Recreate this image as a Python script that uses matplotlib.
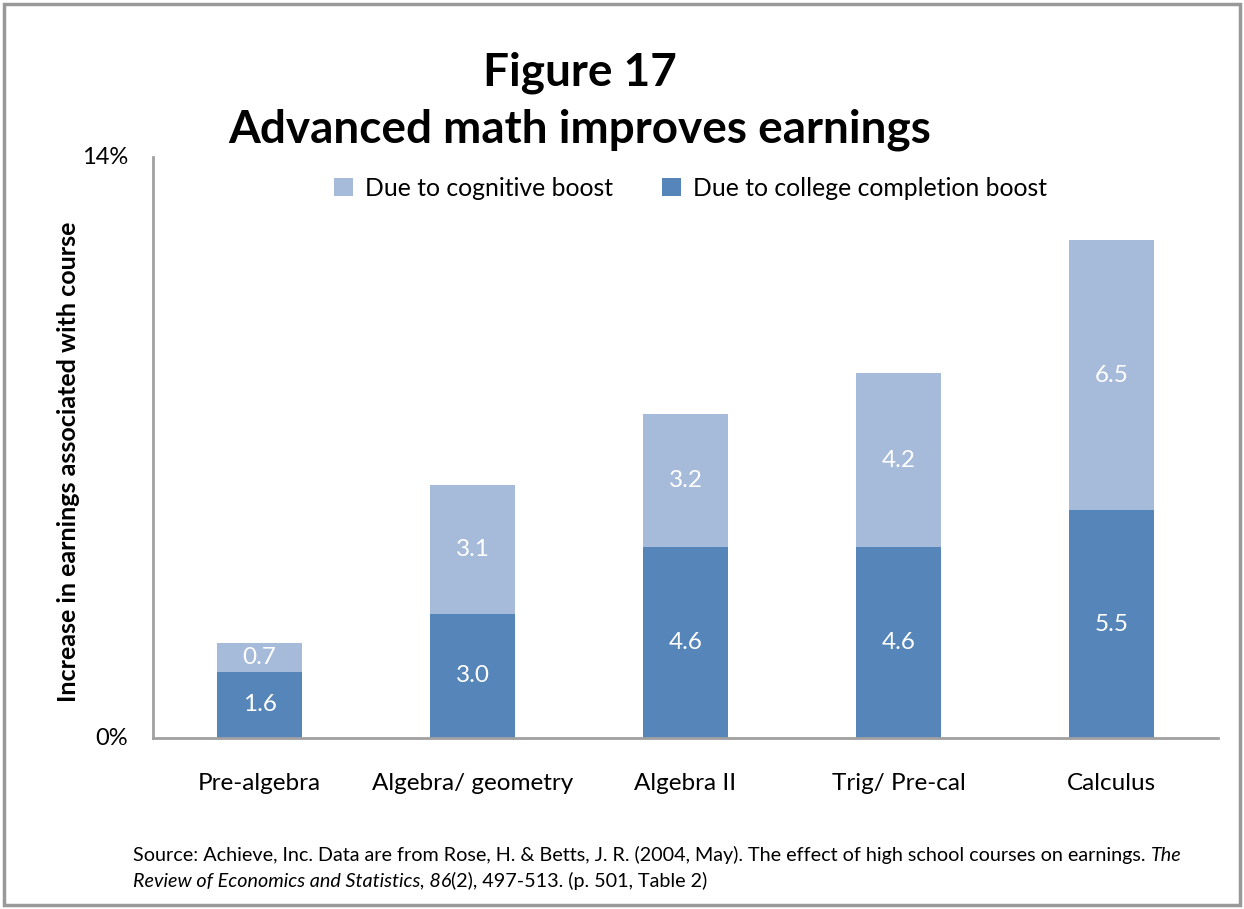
import numpy as np
import matplotlib.pyplot as plt
from matplotlib.patches import Rectangle

# data
courses = ['Pre-algebra', 'Algebra/ geometry', 'Algebra II', 'Trig/ Pre-cal', 'Calculus']
college = [1.6, 3.0, 4.6, 4.6, 5.5]
cognitive = [0.7, 3.1, 3.2, 4.2, 6.5]
ytick_vals = [0, 14]
ytick_labels = ['0%', '14%']

plt.rcParams['font.family'] = ['Lato', 'DejaVu Sans']

dark = '#5585B9'
light = '#A6BAD9'

fig = plt.figure(figsize=(12.44, 9.09), dpi=100)
ax = fig.add_axes([0.123, 0.188, 0.856, 0.639])

x = np.arange(len(courses))
b1 = ax.bar(x, college, width=0.4, color=dark, label='Due to college completion boost')
b2 = ax.bar(x, cognitive, width=0.4, bottom=college, color=light, label='Due to cognitive boost')

for i in range(len(courses)):
    ax.text(x[i], college[i] / 2, '%.1f' % college[i], ha='center', va='center',
            color='white', fontsize=17.5)
    ax.text(x[i], college[i] + cognitive[i] / 2, '%.1f' % cognitive[i], ha='center',
            va='center', color='white', fontsize=17.5)

ax.set_xlim(-0.5, 4.5)
ax.set_ylim(0, 14)
ax.set_yticks(ytick_vals)
ax.set_yticklabels(ytick_labels, fontsize=17)
ax.set_xticks(x)
ax.set_xticklabels(courses, fontsize=17.5)
ax.tick_params(length=0)
ax.tick_params(axis='x', pad=25)
ax.tick_params(axis='y', pad=18)
for lab in ax.get_yticklabels():
    lab.set_verticalalignment('center')

for s in ['top', 'right']:
    ax.spines[s].set_visible(False)
for s in ['left', 'bottom']:
    ax.spines[s].set_color('#A0A0A0')
    ax.spines[s].set_linewidth(2)

ax.set_ylabel('Increase in earnings associated with course', fontsize=18,
              fontweight='bold')
ax.yaxis.set_label_coords(-0.069, 0.475)

ax.legend(handles=[b2, b1], loc='upper center', bbox_to_anchor=(0.505, 1.005), ncol=2,
          frameon=False, fontsize=17.8, handlelength=0.75, handleheight=0.75,
          columnspacing=2.0, handletextpad=0.5)

fig.text(0.466, 0.92, 'Figure 17', ha='center', va='center', fontsize=33, fontweight='bold')
fig.text(0.466, 0.857, 'Advanced math improves earnings', ha='center', va='center',
         fontsize=33, fontweight='bold')

# source note, mixed roman and italic pieces
src_fs = 14.2
fig.canvas.draw()
r = fig.canvas.get_renderer()
t1 = fig.text(0.107, 0.059, 'Source: Achieve, Inc. Data are from Rose, H. & Betts, J. R. (2004, May). '
              'The effect of high school courses on earnings. ', fontsize=src_fs, va='center')
e = t1.get_window_extent(r)
fig.text(e.x1 / fig.bbox.width, 0.059, 'The', fontsize=src_fs, va='center', fontstyle='italic')
t2 = fig.text(0.107, 0.031, 'Review of Economics and Statistics, 86', fontsize=src_fs,
              va='center', fontstyle='italic')
e = t2.get_window_extent(r)
fig.text(e.x1 / fig.bbox.width, 0.031, '(2), 497-513. (p. 501, Table 2)', fontsize=src_fs,
         va='center')

fig.patches.append(Rectangle((0.003, 0.004), 0.994, 0.992, transform=fig.transFigure,
                             fill=False, edgecolor='#999999', linewidth=2.5))

fig.savefig('out.png', dpi=100)
